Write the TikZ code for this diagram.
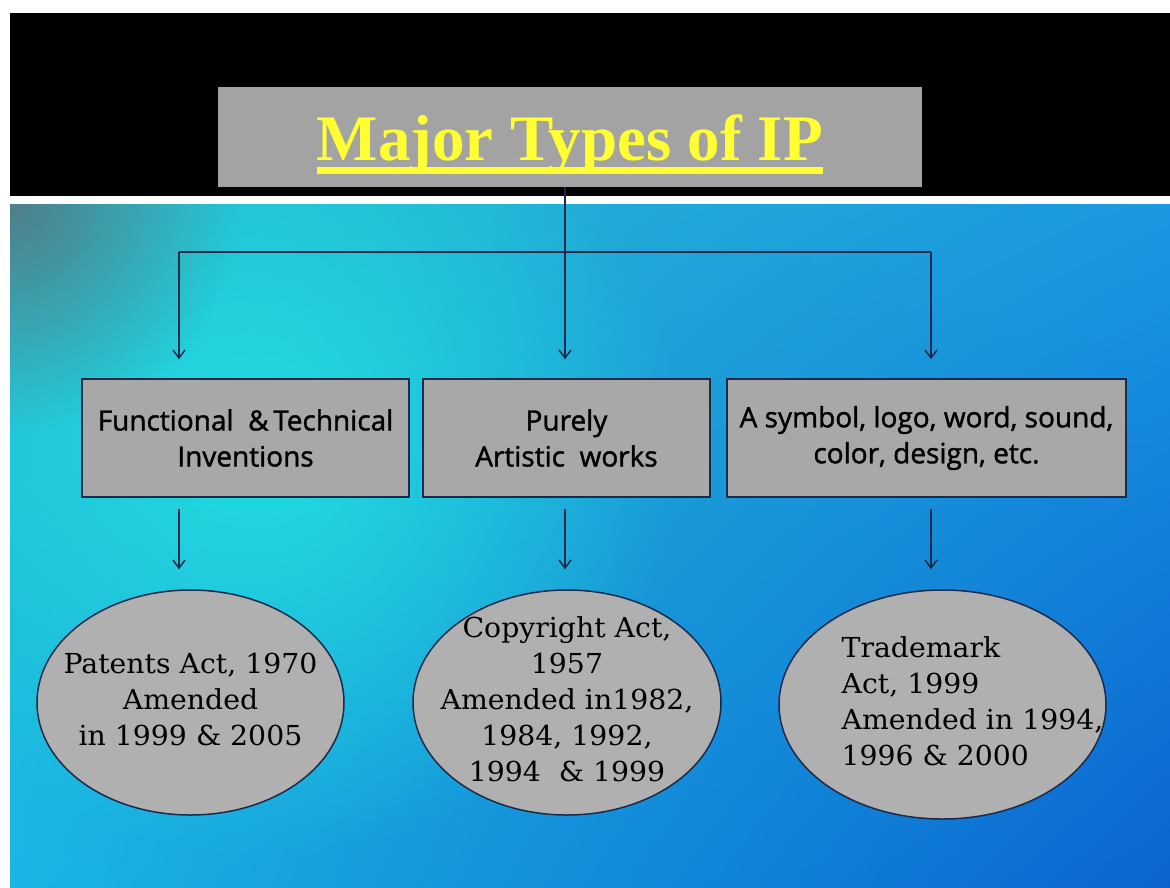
\documentclass[tikz,border=0pt]{standalone}
\usepackage{fontspec}
\newfontfamily\headfont{Liberation Serif}
\newfontfamily\typefont{Open Sans}[FakeBold=1.4]
\newfontfamily\actfont{DejaVu Serif}[FakeStretch=1.03]
\usetikzlibrary{shapes.geometric, arrows.meta, positioning, fadings, shadings}

\definecolor{ipnavy}{HTML}{1B2A4A}
\definecolor{ipgray}{HTML}{A3A3A3}
\definecolor{ipbox}{HTML}{A8A8A8}
\definecolor{ipoval}{HTML}{B0B0B0}
\definecolor{ipyellow}{HTML}{FFFF33}
\definecolor{bgul}{HTML}{28BCCB}
\definecolor{bgur}{HTML}{1A98E2}
\definecolor{bgll}{HTML}{1AB6E4}
\definecolor{bglr}{HTML}{0A64D0}
\definecolor{bgglow}{HTML}{22DDE0}
\definecolor{bgcorner}{HTML}{5A6E78}

\tikzfading[name=softglow, inner color=transparent!0, outer color=transparent!100]

% title with a thick bar under it
\newcommand{\ipunderline}[1]{\setbox0=\hbox{#1}\vtop{\copy0\kern-\dp0\kern7pt\hrule height 7pt}}
% text lines that do not size the ellipse
\newcommand{\actlines}[2][c]{\makebox[0pt]{\raisebox{-12pt}{\smash{\begin{tabular}{@{}#1@{}}#2\end{tabular}}}}}

\tikzset{
  iphead/.style={rectangle, fill=ipgray, minimum width=704pt, minimum height=100pt,
                 inner sep=0pt, text height=60pt, text depth=14pt, text=ipyellow,
                 font=\headfont\bfseries\fontsize{65}{70}\selectfont},
  iptype/.style={rectangle, draw=ipnavy, line width=1.5pt, fill=ipbox,
                 minimum height=118pt, inner sep=0pt, align=center,
                 font=\typefont\fontsize{28}{36}\selectfont},
  ipact/.style={ellipse, draw=ipnavy, line width=1.5pt, fill=ipoval, inner sep=0pt,
                font=\actfont\fontsize{27.5}{36}\selectfont},
  ipline/.style={ipnavy, line width=1.5pt},
  iparrow/.style={ipline, -{Straight Barb[length=8pt, width=12pt]}},
}

\begin{document}
\begin{tikzpicture}[x=1pt, y=-1pt]
  \useasboundingbox (0,0) rectangle (1170,887);
  \fill[white] (0,0) rectangle (1170,887);

  % background
  \shade[upper left=bgul, upper right=bgur, lower left=bgll, lower right=bglr]
    (10,204) rectangle (1170,887);
  \begin{scope}
    \clip (10,204) rectangle (1170,887);
    \fill[bgglow, path fading=softglow] (260,440) circle (420pt);
    \fill[bgcorner, path fading=softglow, opacity=.8] (10,204) circle (230pt);
  \end{scope}
  \fill[black] (10,13) rectangle (1170,196);
  \fill[white] (10,196) rectangle (1170,204);

  % title
  \node[iphead] (hdr) at (570,137) {\ipunderline{Major Types of IP}};

  % kinds of IP
  \node[iptype, minimum width=327pt] (fti) at (245.5,438)
    {Functional\ \ \&\,Technical\\Inventions};
  \node[iptype, minimum width=287pt] (paw) at (566.5,438)
    {Purely\\Artistic\ \ works};
  \node[iptype, minimum width=399pt] (sym) at (926.5,438)
    {A symbol, logo, word, sound,\\color, design, etc.};

  % acts
  \node[ipact, minimum width=307pt, minimum height=225pt] (pat) at (190.5,702.5)
    {\actlines{Patents Act, 1970\\Amended\\in 1999 \& 2005}};
  \node[ipact, minimum width=308pt, minimum height=225pt] (cop) at (567,702.5)
    {\actlines{Copyright Act,\\1957\\Amended in1982,\\1984, 1992,\\1994\ \ \& 1999}};
  \node[ipact, minimum width=327pt, minimum height=229pt] (tmk) at (942.5,704.5)
    {\hspace*{60pt}\actlines[l]{Trademark\\Act, 1999\\Amended in 1994,\\1996 \& 2000}};

  % connectors
  \coordinate (ljoin) at (179,252);
  \coordinate (split) at (565,252);
  \coordinate (rjoin) at (931,252);
  \draw[ipline] (hdr.south -| split) -- (split);
  \draw[ipline] (ljoin) -- (rjoin);
  \draw[iparrow] (ljoin) -- ([yshift=19pt]fti.north -| ljoin);
  \draw[iparrow] (split) -- ([yshift=19pt]paw.north -| split);
  \draw[iparrow] (rjoin) -- ([yshift=19pt]sym.north -| rjoin);
  \draw[iparrow] ([yshift=-11pt]fti.south -| ljoin) -- ([yshift=20pt]pat.north -| ljoin);
  \draw[iparrow] ([yshift=-11pt]paw.south -| split) -- ([yshift=20pt]cop.north -| split);
  \draw[iparrow] ([yshift=-11pt]sym.south -| rjoin) -- ([yshift=20pt]tmk.north -| rjoin);
\end{tikzpicture}
\end{document}
